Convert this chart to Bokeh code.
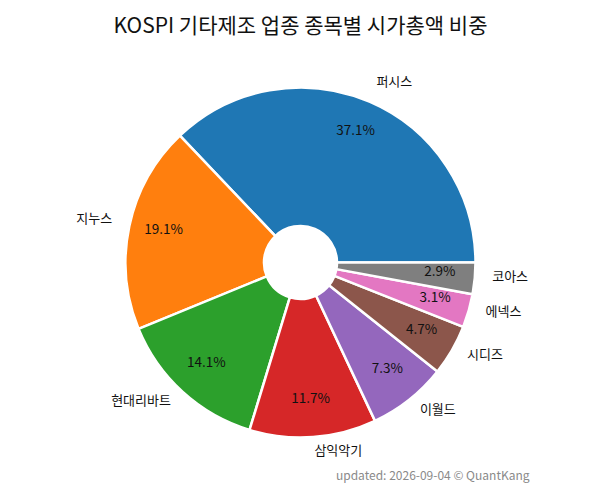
import numpy as np
from bokeh.plotting import figure
from bokeh.models import Range1d, ColumnDataSource
from bokeh.core.properties import value
from bokeh.embed import file_html
from bokeh.resources import INLINE

names = ["퍼시스", "지누스", "현대리바트", "삼익악기", "이월드", "시디즈", "에넥스", "코아스"]
shares = [37.1, 19.1, 14.1, 11.7, 7.3, 4.7, 3.1, 2.9]
colors = ["#1f77b4", "#ff7f0e", "#2ca02c", "#d62728", "#9467bd", "#8c564b", "#e377c2", "#7f7f7f"]
title_text = "KOSPI 기타제조 업종 종목별 시가총액 비중"
footer_text = "updated: 2026-09-04 © QuantKang"

FONT = "Noto Sans CJK KR"
W, H = 584, 484
R = 175.0
HOLE = 36.5
TEXT_LIFT = 5.0  # compensate CJK em-box vertical centring

vals = np.array(shares, dtype=float)
frac = vals / vals.sum()
ends = np.cumsum(frac) * 2 * np.pi
starts = np.concatenate([[0.0], ends[:-1]])
mids = (starts + ends) / 2

src = ColumnDataSource(dict(
    start=starts, end=ends, color=colors,
    lx=1.1 * R * np.cos(mids), ly=1.1 * R * np.sin(mids) + TEXT_LIFT,
    px=0.8 * R * np.cos(mids), py=0.8 * R * np.sin(mids) + TEXT_LIFT,
    name=names, pct=[f"{v:.1f}%" for v in shares],
    align=["left" if np.cos(m) >= 0 else "right" for m in mids],
))

p = figure(width=W, height=H, output_backend="svg", toolbar_location=None,
           x_range=Range1d(-300, 284), y_range=Range1d(-222, 262),
           min_border=0, match_aspect=False)
p.axis.visible = False
p.grid.visible = False
p.outline_line_color = None
p.background_fill_color = "white"

p.annular_wedge(x=0, y=0, inner_radius=HOLE, outer_radius=R,
                start_angle="start", end_angle="end", fill_color="color",
                line_color="white", line_width=2.5, source=src)

p.text(x="lx", y="ly", text="name", text_align="align", text_baseline="middle",
       text_font=value(FONT), text_font_size="13px", text_color="#111111", source=src)
p.text(x="px", y="py", text="pct", text_align="center", text_baseline="middle",
       text_font=value(FONT), text_font_size="13.5px", text_color="#111111", source=src)

p.text(x=[0], y=[239], text=[title_text], text_align="center", text_baseline="middle",
       text_font=value(FONT), text_font_size="21px", text_color="#111111")
p.text(x=[229], y=[-212], text=[footer_text], text_align="right", text_baseline="middle",
       text_font=value(FONT), text_font_size="12px", text_color="#8a8a8a")

open("out.html", "w").write(file_html(p, INLINE))
